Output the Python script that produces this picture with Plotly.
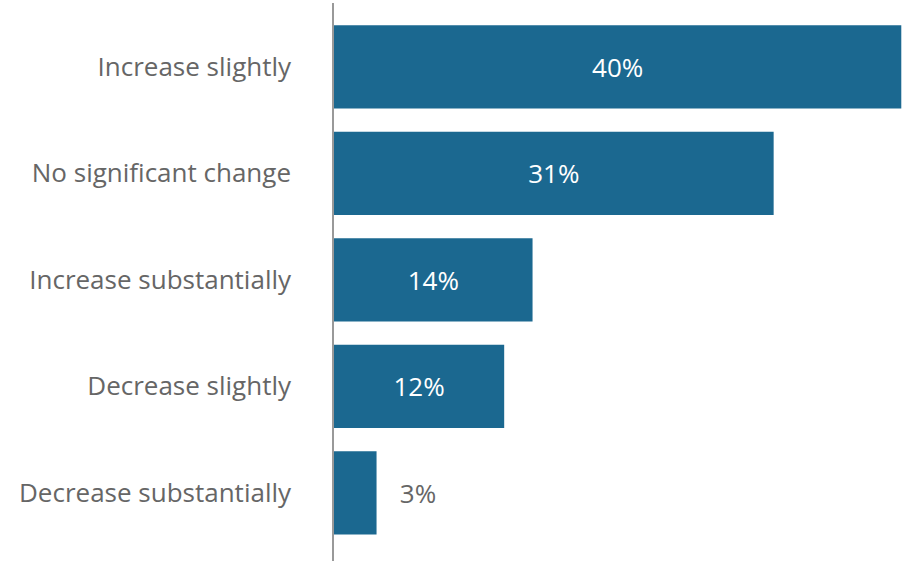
import plotly.graph_objects as go

# Expected change responses (share of respondents, %)
categories = [
    "Increase slightly",
    "No significant change",
    "Increase substantially",
    "Decrease slightly",
    "Decrease substantially",
]
values = [40, 31, 14, 12, 3]

bar_color = "#1b6890"
label_gray = "#666666"
font_family = "Open Sans"

# Small bars get their label outside the bar
positions = ["inside" if v >= 8 else "outside" for v in values]
labels = [f"{v}%" if p == "inside" else f"   {v}%" for v, p in zip(values, positions)]
text_colors = ["white" if p == "inside" else label_gray for p in positions]

fig = go.Figure(
    go.Bar(
        x=values,
        y=categories,
        orientation="h",
        marker=dict(color=bar_color, line=dict(width=0)),
        text=labels,
        textposition=positions,
        insidetextanchor="middle",
        textfont=dict(color=text_colors, size=26, family=font_family),
        cliponaxis=False,
        hoverinfo="skip",
    )
)

fig.update_layout(
    width=902,
    height=561,
    margin=dict(l=334, r=0, t=3, b=0),
    paper_bgcolor="white",
    plot_bgcolor="white",
    bargap=0.22,
    showlegend=False,
    font=dict(family=font_family, color=label_gray, size=26),
    uniformtext=dict(mode=False),
)

fig.update_xaxes(
    range=[0, 40.05],
    visible=False,
    showgrid=False,
    zeroline=False,
)

fig.update_yaxes(
    categoryorder="array",
    categoryarray=categories,
    range=[4.64, -0.6],
    showgrid=False,
    zeroline=False,
    showline=True,
    linecolor="#999999",
    linewidth=1.5,
    ticks="",
    ticklabelstandoff=36,
    tickfont=dict(size=26, color=label_gray, family=font_family),
)

fig.write_html("out.html")
